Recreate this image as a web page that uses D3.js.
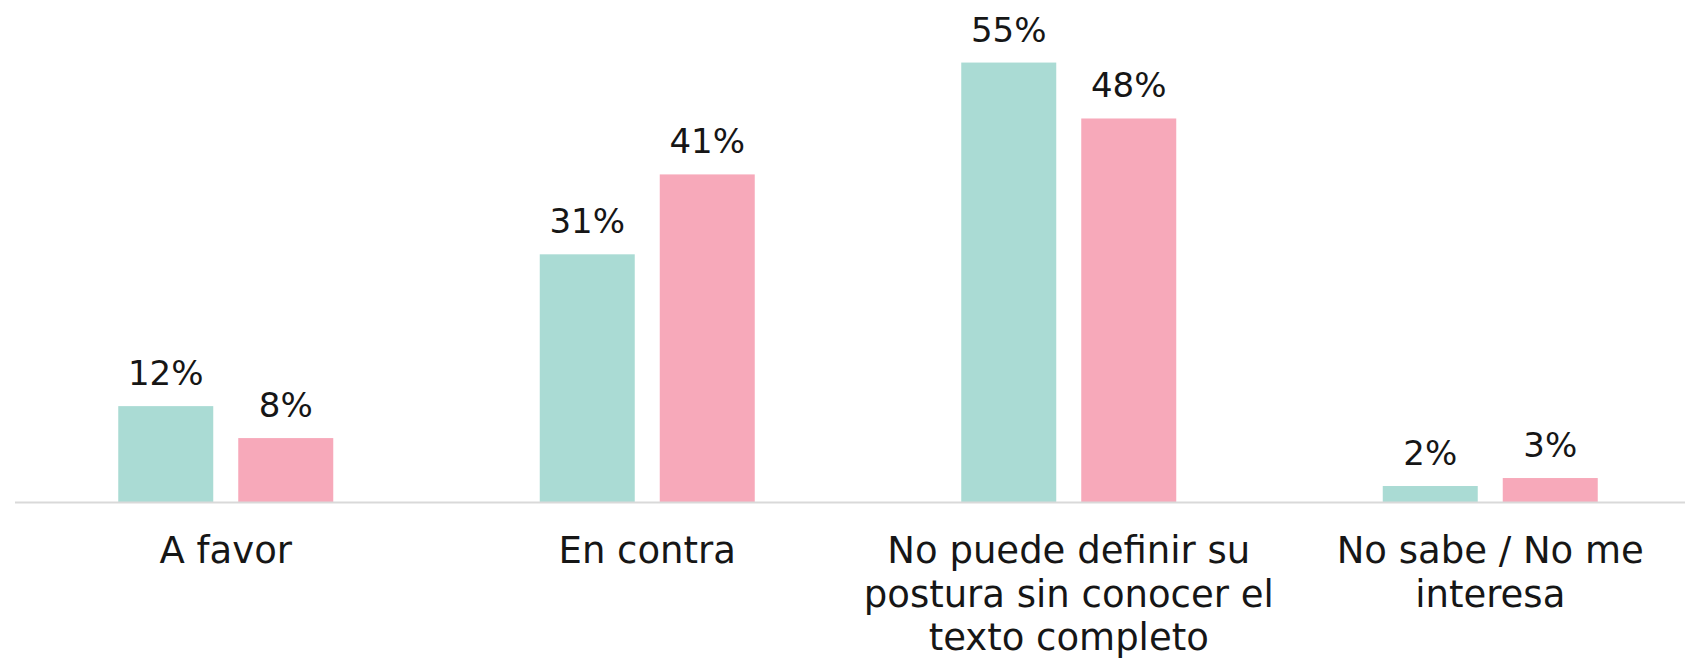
<!DOCTYPE html>
<html>
<head>
<meta charset="utf-8">
<script src="https://cdn.jsdelivr.net/npm/d3@7"></script>
<style>
  html, body { margin: 0; padding: 0; background: #fff; }
  svg { display: block; }
  text { font-family: "DejaVu Sans", "Open Sans", sans-serif; fill: #161616; }
</style>
</head>
<body>
<svg id="chart" width="1685" height="660"></svg>
<script>
// --- data ---
var categories = [
    ["A favor"],
    ["En contra"],
    ["No puede definir su", "postura sin conocer el", "texto completo"],
    ["No sabe / No me", "interesa"]
];
var series = ["s1", "s2"];
var seriesColors = ["#aadbd4", "#f7a9ba"];
var values1 = [12, 31, 55, 2];
var values2 = [8, 41, 48, 3];

// --- layout ---
var W = 1685, H = 660;
var baseY = 502;
var svg = d3.select("#chart");

var x0 = d3.scaleBand()
    .domain(d3.range(categories.length))
    .range([15, 15 + 4 * 421.5])
    .padding(0);

var groupW = 215;
var x1 = d3.scaleBand()
    .domain(series)
    .range([0, groupW])
    .paddingInner(25 / 120)
    .paddingOuter(0);

var y = d3.scaleLinear()
    .domain([0, 55])
    .range([baseY, baseY - 55 * 7.99]);

var rows = categories.map(function(c, i) {
    return { i: i, vals: [values1[i], values2[i]] };
});

// bars
var groups = svg.selectAll("g.grp")
    .data(rows)
    .enter().append("g")
    .attr("class", "grp")
    .attr("transform", function(d) {
        return "translate(" + (x0(d.i) + (x0.bandwidth() - groupW) / 2) + ",0)";
    });

groups.selectAll("rect")
    .data(function(d) { return d.vals.map(function(v, k) { return { k: k, v: v }; }); })
    .enter().append("rect")
    .attr("x", function(d) { return x1(series[d.k]); })
    .attr("y", function(d) { return y(d.v); })
    .attr("width", x1.bandwidth())
    .attr("height", function(d) { return baseY - y(d.v); })
    .attr("fill", function(d) { return seriesColors[d.k]; });

groups.selectAll("text.val")
    .data(function(d) { return d.vals.map(function(v, k) { return { k: k, v: v }; }); })
    .enter().append("text")
    .attr("class", "val")
    .attr("x", function(d) { return x1(series[d.k]) + x1.bandwidth() / 2; })
    .attr("y", function(d) { return y(d.v) - 21; })
    .attr("text-anchor", "middle")
    .style("font-size", "34px")
    .text(function(d) { return d.v + "%"; });

// axis line
svg.append("line")
    .attr("x1", 15).attr("x2", W)
    .attr("y1", baseY + 0.5).attr("y2", baseY + 0.5)
    .attr("stroke", "#d9d9d9")
    .attr("stroke-width", 2);

// category labels
categories.forEach(function(lines, i) {
    var t = svg.append("text")
        .attr("text-anchor", "middle")
        .attr("x", x0(i) + x0.bandwidth() / 2)
        .attr("y", 563)
        .style("font-size", "37px");
    lines.forEach(function(line, j) {
        t.append("tspan")
            .attr("x", x0(i) + x0.bandwidth() / 2)
            .attr("dy", j === 0 ? 0 : 43.5)
            .text(line);
    });
});
</script>
</body>
</html>
